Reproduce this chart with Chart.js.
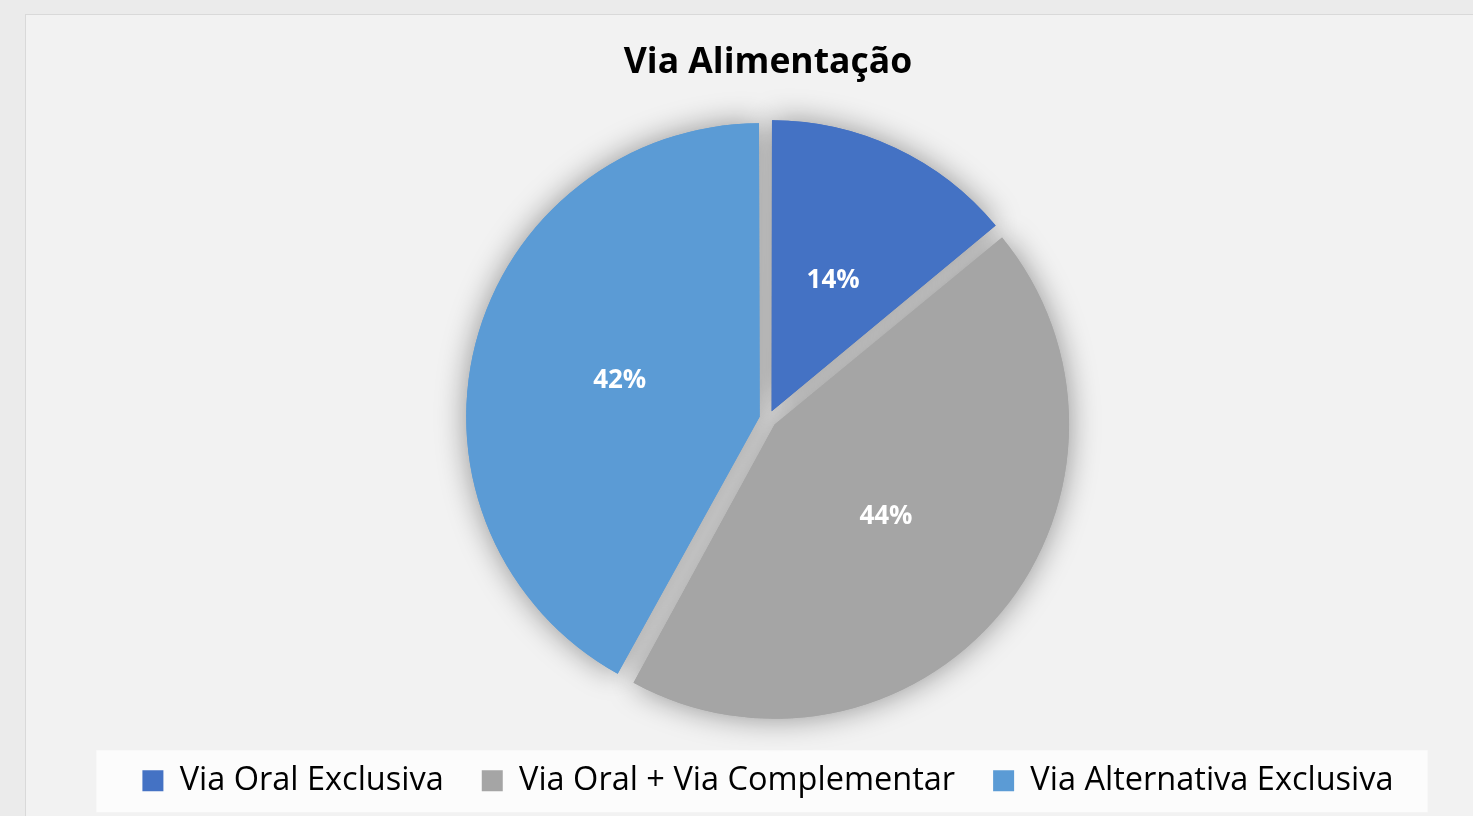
<!DOCTYPE html>
<html>
<head>
<meta charset="utf-8">
<script src="https://cdn.jsdelivr.net/npm/chart.js@4.4.1/dist/chart.umd.min.js"></script>
<style>
  body { margin: 0; background: #ebebeb; overflow: hidden; width: 1473px; height: 816px; }
  #panel { position: absolute; left: 25px; top: 14px; width: 1500px; height: 840px; background: #f2f2f2; border: 1px solid #d9d9d9; }
  #pie { position: absolute; left: 0; top: 0; }
</style>
</head>
<body>
<div id="panel"><canvas id="pie" width="1484" height="802"></canvas></div>
<script>
const categories = ['Via Oral Exclusiva', 'Via Oral + Via Complementar', 'Via Alternativa Exclusiva'];
const shares = [14, 44, 42];
const sliceColors = ['#4472c4', '#a5a5a5', '#5b9bd5'];

const explode = 8.6; // how far each slice is pulled out, px
const total = shares.reduce((a, b) => a + b, 0);

// soft shadow under the slices, drawn first so it never falls on a slice
const sliceShadow = {
  id: 'sliceShadow',
  beforeDatasetsDraw(chart) {
    const ctx = chart.ctx;
    ctx.save();
    ctx.shadowColor = 'rgba(0,0,0,0.4)';
    ctx.shadowBlur = 30;
    chart.getDatasetMeta(0).data.forEach(a => a.draw(ctx));
    ctx.restore();
  }
};

// percentage labels inside the slices
const sliceLabels = {
  id: 'sliceLabels',
  afterDatasetsDraw(chart) {
    const ctx = chart.ctx;
    ctx.save();
    ctx.font = 'bold 26px "Open Sans"';
    ctx.fillStyle = '#ffffff';
    ctx.textAlign = 'center';
    ctx.textBaseline = 'middle';
    chart.getDatasetMeta(0).data.forEach((arc, i) => {
      const p = arc.getProps(['x', 'y', 'startAngle', 'endAngle', 'outerRadius']);
      const mid = (p.startAngle + p.endAngle) / 2;
      const r = p.outerRadius * 0.5 + explode;
      ctx.fillText(Math.round(shares[i] / total * 100) + '%', p.x + Math.cos(mid) * r, p.y + Math.sin(mid) * r);
    });
    ctx.restore();
  }
};

// white box behind the legend
const legendBox = {
  id: 'legendBox',
  beforeDraw(chart) {
    const hb = chart.legend.legendHitBoxes;
    if (!hb || !hb.length) return;
    const last = hb[hb.length - 1];
    const fs = 32.5, bh = 21;
    const cy = hb[0].top + Math.max((fs - bh) / 2, 0) + bh / 2;
    const ctx = chart.ctx;
    ctx.save();
    ctx.fillStyle = '#fcfcfc';
    ctx.fillRect(hb[0].left - 46, cy - 30.5, last.left + last.width + 34 - (hb[0].left - 46), 62);
    ctx.restore();
  }
};

const ctx = document.getElementById('pie').getContext('2d');
const pieChart = new Chart(ctx, {
  type: 'pie',
  data: {
    labels: categories,
    datasets: [{
      data: shares,
      backgroundColor: sliceColors,
      borderWidth: 0,
      offset: 4 * explode,
      hoverOffset: 0,
      radius: 289
    }]
  },
  options: {
    responsive: false,
    animation: false,
    events: [],
    layout: { padding: { left: 0, right: 0, top: 0, bottom: 10 } },
    plugins: {
      title: {
        display: true,
        text: 'Via Alimentação',
        color: '#000000',
        font: { family: 'Open Sans', size: 35.5, weight: 'bold' },
        padding: { top: 26.7, bottom: 27.1 }
      },
      legend: {
        position: 'bottom',
        labels: {
          color: '#000000',
          font: { family: 'Open Sans', size: 32.5 },
          boxWidth: 21,
          boxHeight: 21,
          padding: 38
        }
      },
      tooltip: { enabled: false }
    }
  },
  plugins: [sliceShadow, sliceLabels, legendBox]
});
</script>
</body>
</html>
